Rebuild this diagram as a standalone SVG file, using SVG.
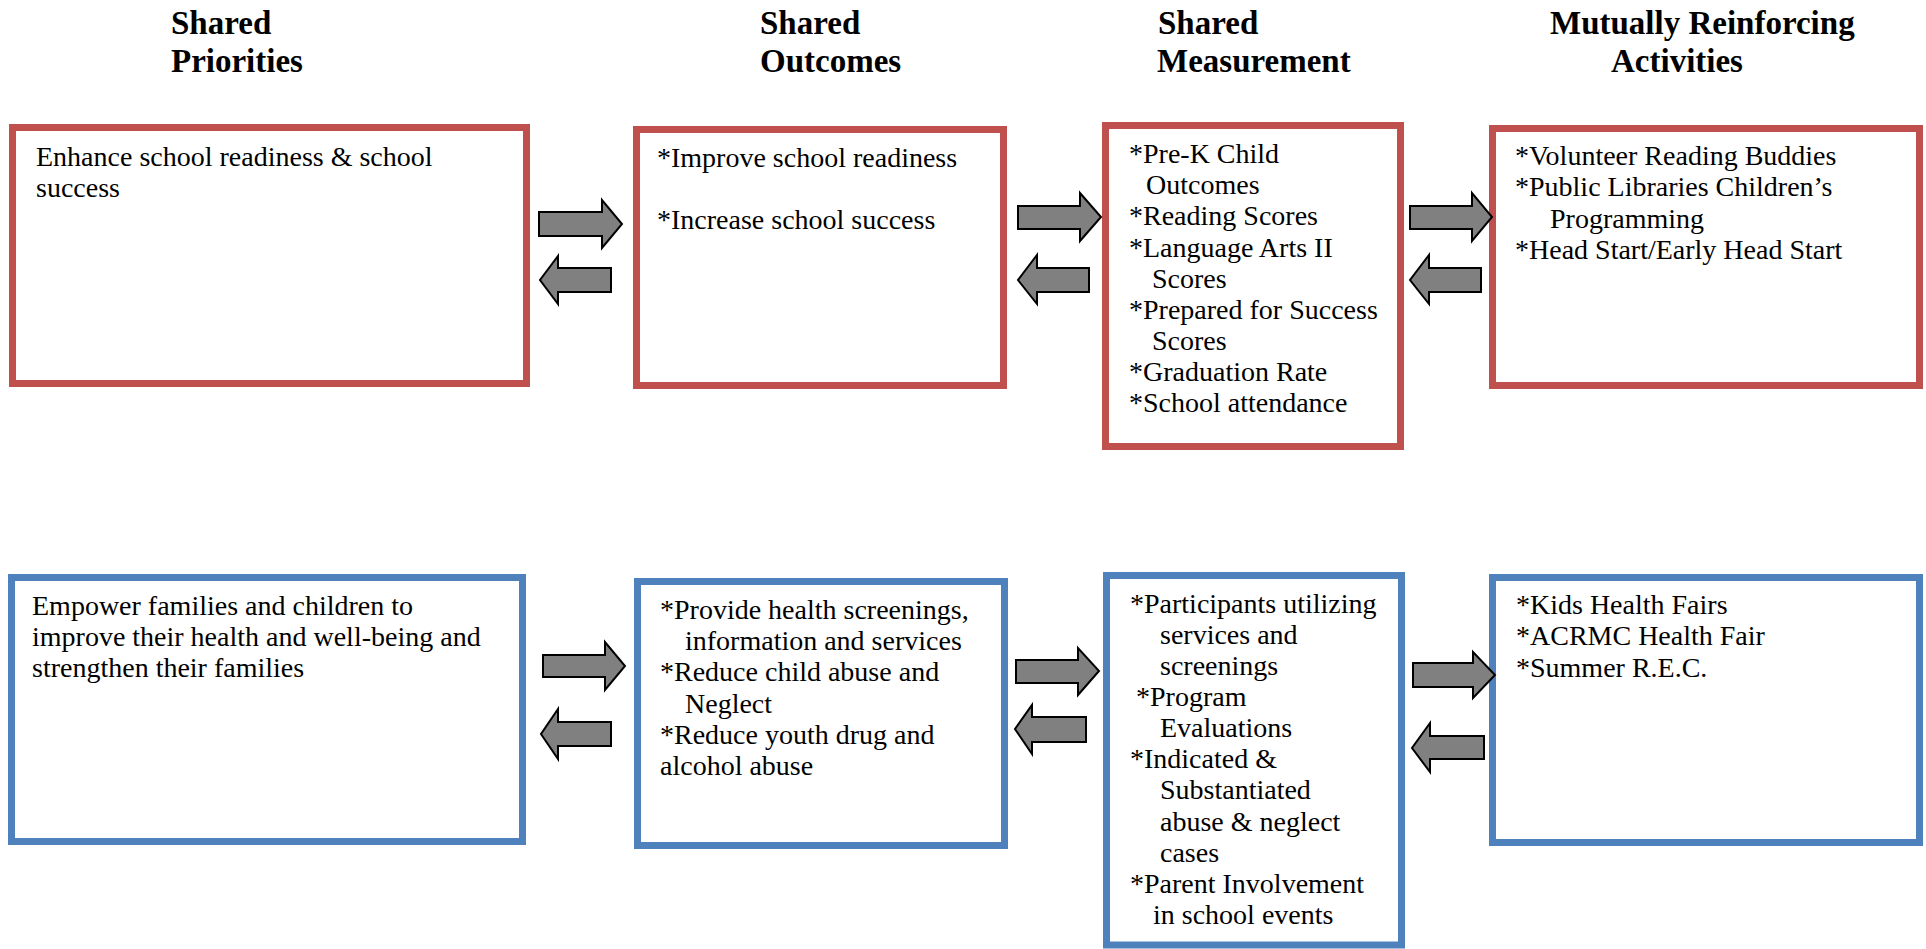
<svg xmlns="http://www.w3.org/2000/svg" width="1926" height="949" viewBox="0 0 1926 949">
<style>
.hd{font-family:"Liberation Serif","Times New Roman",serif;font-weight:bold;font-size:33px;fill:#000}
.tx{font-family:"Liberation Serif","Times New Roman",serif;font-size:28px;fill:#000}
.red{fill:#fff;stroke:#C0504D;stroke-width:7}
.blue{fill:#fff;stroke:#4F81BD;stroke-width:7}
.arr{fill:#808080;stroke:#000;stroke-width:2;stroke-linejoin:miter}
</style>
<rect width="1926" height="949" fill="#fff"/>
<g id="headers">
<text class="hd" x="171" y="34">Shared</text>
<text class="hd" x="171" y="72">Priorities</text>
<text class="hd" x="760" y="34">Shared</text>
<text class="hd" x="760" y="72">Outcomes</text>
<text class="hd" x="1158" y="34">Shared</text>
<text class="hd" x="1157" y="72">Measurement</text>
<text class="hd" x="1550" y="34">Mutually Reinforcing</text>
<text class="hd" x="1611" y="72">Activities</text>
</g>
<g id="node-priorities-1">
<rect class="red" x="12.5" y="127.5" width="514" height="256"/>
<text class="tx" x="36" y="166">Enhance school readiness &amp; school</text>
<text class="tx" x="36" y="197">success</text>
</g>
<g id="node-outcomes-1">
<rect class="red" x="636.5" y="129.5" width="367" height="256"/>
<text class="tx" x="657" y="167">*Improve school readiness</text>
<text class="tx" x="657" y="229">*Increase school success</text>
</g>
<g id="node-measurement-1">
<rect class="red" x="1105.5" y="125.5" width="295" height="321"/>
<text class="tx" x="1129" y="163">*Pre-K Child</text>
<text class="tx" x="1146" y="194">Outcomes</text>
<text class="tx" x="1129" y="225">*Reading Scores</text>
<text class="tx" x="1129" y="257">*Language Arts II</text>
<text class="tx" x="1152" y="288">Scores</text>
<text class="tx" x="1129" y="319">*Prepared for Success</text>
<text class="tx" x="1152" y="350">Scores</text>
<text class="tx" x="1129" y="381">*Graduation Rate</text>
<text class="tx" x="1129" y="412">*School attendance</text>
</g>
<g id="node-activities-1">
<rect class="red" x="1492.5" y="128.5" width="427" height="257"/>
<text class="tx" x="1515" y="165">*Volunteer Reading Buddies</text>
<text class="tx" x="1515" y="196">*Public Libraries Children’s</text>
<text class="tx" x="1550" y="228">Programming</text>
<text class="tx" x="1515" y="259">*Head Start/Early Head Start</text>
</g>
<g id="node-priorities-2">
<rect class="blue" x="11.5" y="577.5" width="511" height="264"/>
<text class="tx" x="32" y="615">Empower families and children to</text>
<text class="tx" x="32" y="646">improve their health and well-being and</text>
<text class="tx" x="32" y="677">strengthen their families</text>
</g>
<g id="node-outcomes-2">
<rect class="blue" x="637.5" y="581.5" width="367" height="264"/>
<text class="tx" x="660" y="619">*Provide health screenings,</text>
<text class="tx" x="685" y="650">information and services</text>
<text class="tx" x="660" y="681">*Reduce child abuse and</text>
<text class="tx" x="685" y="713">Neglect</text>
<text class="tx" x="660" y="744">*Reduce youth drug and</text>
<text class="tx" x="660" y="775">alcohol abuse</text>
</g>
<g id="node-measurement-2">
<rect class="blue" x="1106.5" y="575.5" width="295" height="369.5"/>
<text class="tx" x="1130" y="613">*Participants utilizing</text>
<text class="tx" x="1160" y="644">services and</text>
<text class="tx" x="1160" y="675">screenings</text>
<text class="tx" x="1136" y="706">*Program</text>
<text class="tx" x="1160" y="737">Evaluations</text>
<text class="tx" x="1130" y="768">*Indicated &amp;</text>
<text class="tx" x="1160" y="799">Substantiated</text>
<text class="tx" x="1160" y="831">abuse &amp; neglect</text>
<text class="tx" x="1160" y="862">cases</text>
<text class="tx" x="1130" y="893">*Parent Involvement</text>
<text class="tx" x="1153" y="924">in school events</text>
</g>
<g id="node-activities-2">
<rect class="blue" x="1492.5" y="577.5" width="427" height="265"/>
<text class="tx" x="1516" y="614">*Kids Health Fairs</text>
<text class="tx" x="1516" y="645">*ACRMC Health Fair</text>
<text class="tx" x="1516" y="677">*Summer R.E.C.</text>
</g>
<g id="connectors">
<polygon class="arr" points="539,212 602,212 602,200 622,224 602,248 602,236 539,236"/>
<polygon class="arr" points="611,268 558,268 558,256 540,280 558,304 558,292 611,292"/>
<polygon class="arr" points="1018,206 1080,206 1080,193 1101,217 1080,241 1080,229 1018,229"/>
<polygon class="arr" points="1089,268 1037,268 1037,255 1018,280 1037,304 1037,292 1089,292"/>
<polygon class="arr" points="1410,206 1472,206 1472,193 1492,217 1472,241 1472,229 1410,229"/>
<polygon class="arr" points="1481,268 1429,268 1429,255 1410,280 1429,304 1429,292 1481,292"/>
<polygon class="arr" points="543,655 605,655 605,642 625,666 605,690 605,677 543,677"/>
<polygon class="arr" points="611,722 558,722 558,709 541,734 558,759 558,746 611,746"/>
<polygon class="arr" points="1016,660 1078,660 1078,648 1099,671 1078,695 1078,683 1016,683"/>
<polygon class="arr" points="1086,717 1032,717 1032,705 1015,729 1032,754 1032,742 1086,742"/>
<polygon class="arr" points="1413,663 1473,663 1473,652 1495,675 1473,698 1473,687 1413,687"/>
<polygon class="arr" points="1484,736 1430,736 1430,723 1412,748 1430,772 1430,759 1484,759"/>
</g>
</svg>
